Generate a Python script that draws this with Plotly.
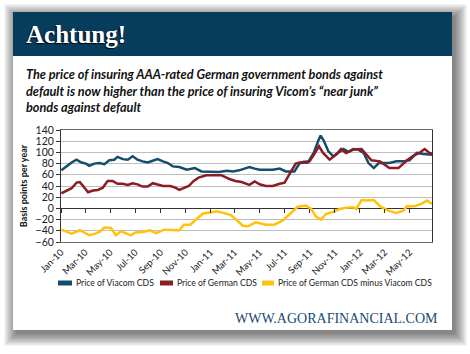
import plotly.graph_objects as go

# ---------------- data ----------------
viacom_dates = ["2010-01-02","2010-01-14","2010-01-27","2010-02-08","2010-02-20","2010-03-03","2010-03-11","2010-03-23",
    "2010-04-05","2010-04-17","2010-04-29","2010-05-11","2010-05-19","2010-06-01","2010-06-13","2010-06-25",
    "2010-07-07","2010-07-19","2010-08-01","2010-08-13","2010-08-25","2010-09-07","2010-09-19","2010-10-01",
    "2010-10-17","2010-11-04","2010-11-24","2010-12-10","2011-01-01","2011-01-22","2011-02-10","2011-02-25",
    "2011-03-12","2011-04-06","2011-04-19","2011-05-01","2011-05-16","2011-06-02","2011-06-19","2011-07-04",
    "2011-07-25","2011-08-07","2011-08-27","2011-09-10","2011-09-22","2011-09-27","2011-10-04","2011-10-16",
    "2011-10-28","2011-11-10","2011-11-22","2011-12-04","2011-12-16","2011-12-28","2012-01-10","2012-01-22",
    "2012-02-04","2012-02-16","2012-02-28","2012-03-13","2012-03-30","2012-04-16","2012-05-01","2012-05-19",
    "2012-06-04","2012-06-25"]
viacom_cds = [68,75,82,87,82,80,76,80,
    81,79,86,87,92,88,87,93,
    87,84,82,85,88,84,81,75,
    74,69,72,66,66,65,67,66,
    68,74,71,69,69,69,71,66,
    66,81,82,99,122,130,122,102,
    93,99,106,101,106,105,99,81,
    72,81,81,81,84,84,86,99,
    97,96]

german_dates = ["2010-01-02","2010-01-14","2010-01-27","2010-02-08","2010-02-16","2010-02-24","2010-03-08","2010-03-20",
    "2010-04-01","2010-04-13","2010-04-25","2010-05-07","2010-05-19","2010-06-01","2010-06-13","2010-06-25",
    "2010-07-07","2010-07-19","2010-08-01","2010-08-13","2010-08-25","2010-09-07","2010-09-25","2010-10-07",
    "2010-10-17","2010-10-29","2010-11-09","2010-11-21","2010-12-03","2010-12-22","2011-01-10","2011-01-28",
    "2011-02-18","2011-03-03","2011-03-18","2011-04-06","2011-04-19","2011-05-01","2011-05-16","2011-06-02",
    "2011-06-19","2011-07-01","2011-07-13","2011-07-28","2011-08-14","2011-08-31","2011-09-13","2011-09-23",
    "2011-10-03","2011-10-19","2011-11-04","2011-11-16","2011-11-28","2011-12-16","2012-01-05","2012-01-17",
    "2012-01-29","2012-02-19","2012-03-13","2012-04-04","2012-04-25","2012-05-10","2012-05-25","2012-06-07",
    "2012-06-19","2012-06-25"]
german_cds = [27,32,36,46,47,40,29,32,
    33,37,49,49,44,44,42,45,
    43,39,39,45,43,40,40,37,
    33,37,40,49,55,59,59,59,
    52,49,47,42,48,43,40,40,
    44,46,61,80,83,84,99,111,
    99,87,96,106,99,105,106,96,
    86,84,72,72,86,94,99,106,
    99,98]

diff_dates = ["2010-01-02","2010-01-14","2010-01-27","2010-02-16","2010-03-03","2010-03-11","2010-03-26","2010-04-05",
    "2010-04-17","2010-05-03","2010-05-15","2010-05-27","2010-06-08","2010-06-20","2010-07-02","2010-07-20",
    "2010-08-06","2010-08-22","2010-09-10","2010-09-26","2010-10-17","2010-10-28","2010-11-13","2010-11-28",
    "2010-12-14","2011-01-04","2011-01-16","2011-02-01","2011-02-20","2011-03-03","2011-03-21","2011-04-02",
    "2011-04-22","2011-05-16","2011-06-06","2011-06-26","2011-07-13","2011-08-02","2011-08-22","2011-09-04",
    "2011-09-16","2011-09-28","2011-10-10","2011-10-28","2011-11-13","2011-11-28","2011-12-16","2011-12-23",
    "2012-01-05","2012-01-17","2012-02-04","2012-02-19","2012-03-10","2012-03-30","2012-04-16","2012-04-25",
    "2012-05-13","2012-05-30","2012-06-13","2012-06-25"]
diff_cds = [-38,-41,-45,-39,-45,-48,-45,-42,
    -34,-35,-48,-41,-44,-48,-43,-42,
    -39,-44,-38,-39,-39,-29,-29,-19,
    -9,-7,-5,-8,-12,-19,-31,-32,
    -25,-29,-29,-22,-10,3,5,-1,
    -15,-20,-10,-6,-1,1,2,-1,
    15,14,15,4,-4,-8,-4,4,
    4,8,14,8]

series_names = ["Price of Viacom CDS", "Price of German CDS", "Price of German CDS minus Viacom CDS"]
series_colors = ["#154d6e", "#8b1c22", "#ffc20e"]
x_range = ["2010-01-01", "2012-06-25"]
y_range = [-60, 140]

title_text = "Achtung!"
subtitle_text = ("The price of insuring AAA-rated German government bonds against<br>"
                 "default is now higher than the price of insuring Vicom\u2019s \u201cnear junk\u201d<br>"
                 "bonds against default")
y_title = "Basis points per year"
footer_text = "WWW.AGORAFINANCIAL.COM"

# ---------------- geometry helpers (pixels -> paper) ----------------
FW, FH = 470, 354
L, R, T, B = 61, 432, 130, 242
W, H = R - L, B - T

def px(xp):
    return (xp - L) / W

def py(yp):
    return (B - yp) / H

fig = go.Figure()
fig.add_trace(go.Scatter(x=viacom_dates, y=viacom_cds, mode="lines", name=series_names[0],
                         line=dict(color=series_colors[0], width=2.5), showlegend=False))
fig.add_trace(go.Scatter(x=german_dates, y=german_cds, mode="lines", name=series_names[1],
                         line=dict(color=series_colors[1], width=2.5), showlegend=False))
fig.add_trace(go.Scatter(x=diff_dates, y=diff_cds, mode="lines", name=series_names[2], xaxis="x2",
                         line=dict(color=series_colors[2], width=2.5), showlegend=False))

shapes = []
# card shadow
for i in range(10):
    e = i * 1.3
    shapes.append(dict(type="rect", xref="paper", yref="paper", layer="below",
                       x0=px(13 + 3 - e), x1=px(452 + 3 + e), y0=py(12 + 4 - e), y1=py(330 + 4 + e),
                       fillcolor="rgba(0,0,0,0.06)", line=dict(width=0)))
# card
shapes.append(dict(type="rect", xref="paper", yref="paper", layer="below",
                   x0=px(13), x1=px(452), y0=py(12), y1=py(330),
                   fillcolor="white", line=dict(width=0)))
# header band
shapes.append(dict(type="rect", xref="paper", yref="paper", layer="below",
                   x0=px(13), x1=px(452), y0=py(12), y1=py(56),
                   fillcolor="#063d5d", line=dict(width=0)))
# legend swatches
sw = [(58, 72), (160, 173), (262, 274)]
for (a, b_), c in zip(sw, series_colors):
    shapes.append(dict(type="rect", xref="paper", yref="paper",
                       x0=px(a), x1=px(b_), y0=py(285.5), y1=py(280.5),
                       fillcolor=c, line=dict(width=0)))

annotations = [
    dict(text=title_text, xref="paper", yref="paper", x=px(24), y=py(34), xanchor="left", yanchor="middle",
         showarrow=False, font=dict(family="Liberation Serif", size=25, color="white", weight="bold",
                                    shadow="-1px 1px 1px #000")),
    dict(text=subtitle_text, xref="paper", yref="paper", x=px(24), y=py(64), xanchor="left", yanchor="top",
         align="left", showarrow=False,
         font=dict(family="Lato", size=12.7, color="#111111", weight="bold", style="italic")),
    dict(text=footer_text, xref="paper", yref="paper", x=px(440), y=py(318), xanchor="right", yanchor="middle",
         showarrow=False, font=dict(family="Liberation Serif", size=14, color="#1b4a70")),
]
for (a, b_), name in zip(sw, series_names):
    annotations.append(dict(text=name, xref="paper", yref="paper", x=px(b_ + 2), y=py(283),
                            xanchor="left", yanchor="middle", showarrow=False,
                            font=dict(family="Lato", size=8.6, color="#222222")))

fig.update_layout(
    width=FW, height=FH,
    margin=dict(l=L, r=FW - R, t=T, b=FH - B, pad=0),
    paper_bgcolor="white", plot_bgcolor="rgba(0,0,0,0)",
    showlegend=False,
    shapes=shapes, annotations=annotations,
    xaxis=dict(type="date", range=x_range, tick0="2010-01-01", dtick="M2", tickformat="%b-%y",
               tickangle=-45, ticks="", showgrid=False, zeroline=False,
               showline=True, linecolor="#6e6e6e", linewidth=1, mirror=True,
               tickfont=dict(family="Lato", size=9.5, color="#222222")),
    xaxis2=dict(type="date", matches="x", overlaying="x", anchor="free",
                position=(0 - y_range[0]) / (y_range[1] - y_range[0]),
                tick0="2010-01-01", dtick="M2", ticks="outside", ticklen=4, tickcolor="#333333",
                showticklabels=False, showgrid=False, showline=False, zeroline=False),
    yaxis=dict(range=y_range, dtick=20, ticks="outside", ticklen=4, tickcolor="#333333",
               showgrid=True, gridcolor="#bdbdbd", gridwidth=1,
               zeroline=True, zerolinecolor="#333333", zerolinewidth=1,
               showline=True, linecolor="#333333", linewidth=1, mirror=True,
               tickfont=dict(family="Lato", size=10.5, color="#222222"),
               title=dict(text=y_title, standoff=6,
                          font=dict(family="Lato", size=9, color="#111111", weight="bold"))),
)

fig.write_html("out.html")
